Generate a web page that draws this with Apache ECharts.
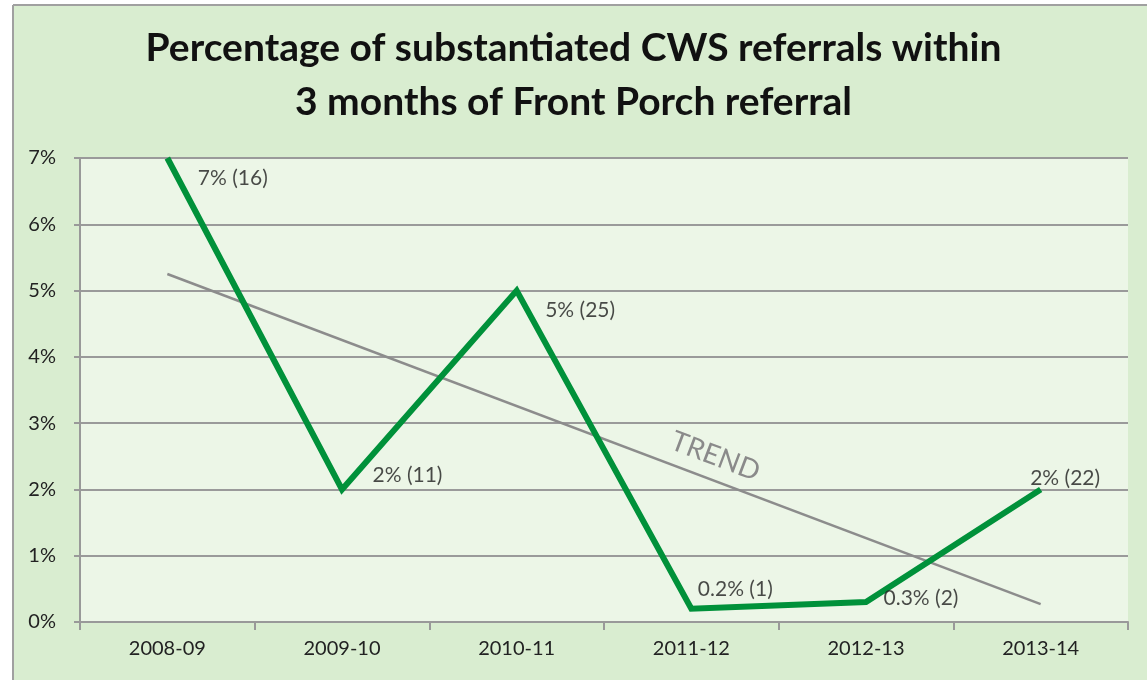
<!DOCTYPE html>
<html><head><meta charset="utf-8">
<script src="https://cdn.jsdelivr.net/npm/echarts@6/dist/echarts.min.js"></script>
<style>html,body{margin:0;padding:0;background:#fff}#c{width:1147px;height:680px}</style>
</head><body><div id="c"></div>
<script>
const categories = ['2008-09','2009-10','2010-11','2011-12','2012-13','2013-14'];
const percentValues = [7.0, 2.0, 5.0, 0.2, 0.3, 2.0];
const percentLabels = ['7%','2%','5%','0.2%','0.3%','2%'];
const counts = [16, 11, 25, 1, 2, 22];
const trendValues = [5.25, null, null, null, null, 0.27];
const yTicks = [0,1,2,3,4,5,6,7];

const labelOffsets = [[25,20],[25,-14],[23,20],[1,-20],[12,-4],[-16,-11]];
const FONT = 'Lato, "Open Sans", sans-serif';

const chart = echarts.init(document.getElementById('c'));
const option = {
  backgroundColor: '#d9edd0',
  animation: false,
  title: {
    text: 'Percentage of substantiated CWS referrals within\n3 months of Front Porch referral',
    left: 'center', top: 16,
    textStyle: {fontFamily: FONT, fontSize: 39, fontWeight: 'bold', color: '#111', lineHeight: 54}
  },
  grid: {left: 80, right: 19, top: 158, bottom: 58, show: true, backgroundColor: '#ecf6e7', borderWidth: 0},
  xAxis: {
    type: 'category', data: categories, boundaryGap: true,
    axisLine: {lineStyle: {color: '#999', width: 2}},
    axisTick: {show: true, length: 8, lineStyle: {color: '#999', width: 2}},
    axisLabel: {fontFamily: FONT, fontSize: 20, color: '#222', margin: 17}
  },
  yAxis: {
    type: 'value', min: yTicks[0], max: yTicks[yTicks.length-1], interval: 1,
    axisLine: {show: true, lineStyle: {color: '#999', width: 2}},
    axisTick: {show: true, length: 6, lineStyle: {color: '#999', width: 2}},
    axisLabel: {fontFamily: FONT, fontSize: 20, color: '#222', margin: 24, formatter: v => v + '%'},
    splitLine: {lineStyle: {color: '#9a9a9a', width: 2}}
  },
  series: [
    {
      type: 'line', data: trendValues, connectNulls: true, symbol: 'none', silent: true,
      lineStyle: {color: '#8c8c8c', width: 2.5}, z: 2
    },
    {
      type: 'line', symbol: 'none', z: 3, clip: false,
      lineStyle: {color: '#00913a', width: 6, join: 'miter'},
      data: percentValues
    },
    {
      type: 'scatter', symbolSize: 1, z: 4, silent: true,
      itemStyle: {color: 'rgba(0,0,0,0)'},
      data: percentValues.map((v, i) => ({
        value: [i, v],
        label: {
          show: true, position: 'right', distance: 5, offset: labelOffsets[i],
          formatter: percentLabels[i] + ' (' + counts[i] + ')',
          fontFamily: FONT, fontSize: 21, color: '#1e1e1e'
        }
      }))
    }
  ]
};
chart.setOption(option);

const p = chart.convertToPixel({seriesIndex: 0}, [3, 2.5]);
const p0 = chart.convertToPixel({seriesIndex: 0}, [0, trendValues[0]]);
const p5 = chart.convertToPixel({seriesIndex: 0}, [5, trendValues[5]]);
const ang = Math.atan2(p5[1]-p0[1], p5[0]-p0[0]);
chart.setOption({
  graphic: [
    {type: 'rect', shape: {x: 0, y: 0, width: 1147, height: 5}, style: {fill: '#fff'}, silent: true},
    {type: 'rect', shape: {x: 0, y: 0, width: 13, height: 680}, style: {fill: '#fff'}, silent: true},
    {type: 'line', shape: {x1: 13, y1: 5, x2: 1147, y2: 5}, style: {stroke: '#a0a0a0', lineWidth: 2}, silent: true},
    {type: 'line', shape: {x1: 13, y1: 5, x2: 13, y2: 680}, style: {stroke: '#a0a0a0', lineWidth: 2}, silent: true},
    {type: 'text', x: p[0] + 24, y: p[1], rotation: -ang, silent: true,
     style: {text: 'TREND', fontFamily: FONT, fontSize: 28, fill: '#8a8a8a', align: 'center', verticalAlign: 'middle'}}
  ]
});
</script></body></html>
